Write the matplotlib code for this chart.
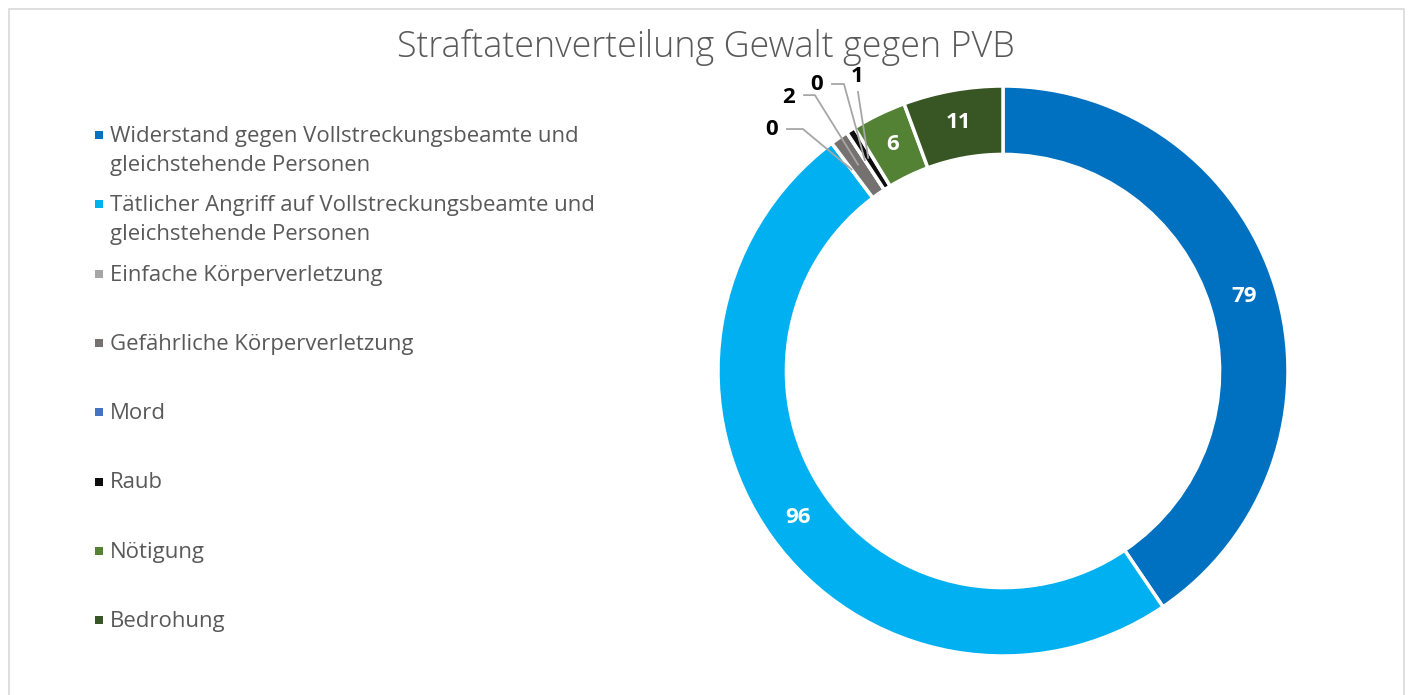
import matplotlib
matplotlib.use('Agg')
import matplotlib.pyplot as plt
import numpy as np
from matplotlib.patches import Rectangle

plt.rcParams['font.family'] = ['Open Sans', 'DejaVu Sans']

title = 'Straftatenverteilung Gewalt gegen PVB'
categories = ['Widerstand gegen Vollstreckungsbeamte und\ngleichstehende Personen',
              'Tätlicher Angriff auf Vollstreckungsbeamte und\ngleichstehende Personen',
              'Einfache Körperverletzung',
              'Gefährliche Körperverletzung',
              'Mord',
              'Raub',
              'Nötigung',
              'Bedrohung']
values = [79, 96, 0, 2, 0, 1, 6, 11]
colors = ['#0070C0', '#00B0F0', '#A5A5A5', '#767171', '#4472C4', '#0D0D0D', '#548235', '#375623']

# outside labels for the tiny slices: text position and leader start/elbow (data units, radius = 1)
outside = {
    2: ((-0.811, 0.846), [(-0.758, 0.849), (-0.702, 0.849)]),
    3: ((-0.751, 0.961), [(-0.698, 0.968), (-0.660, 0.968)]),
    4: ((-0.653, 1.007), [(-0.600, 1.007), (-0.558, 1.007)]),
    5: ((-0.512, 1.032), [(-0.509, 0.979)]),
}

W, H = 1408, 695
fig = plt.figure(figsize=(W / 100, H / 100), dpi=100)

# chart frame
fig.add_artist(Rectangle((8.5 / W, -0.02), (1404 - 8.5) / W, 1.02 - 9 / H,
                         transform=fig.transFigure, fill=False,
                         edgecolor='#D9D9D9', linewidth=1.2))

fig.text(706 / W, 1 - 57 / H, title, ha='center', va='baseline',
         fontsize=25.8, color='#595959', fontweight='light')

# donut
cx, cy, R = 1003, 371, 285
ax = fig.add_axes([(cx - R) / W, 1 - (cy + R) / H, 2 * R / W, 2 * R / H])
wedges, _ = ax.pie(values, colors=colors, startangle=90, counterclock=False, radius=1,
                   wedgeprops=dict(width=0.24, edgecolor='white', linewidth=2.5))
ax.set_xlim(-1, 1)
ax.set_ylim(-1, 1)
ax.set_aspect('equal')
ax.axis('off')

for i, (w, v) in enumerate(zip(wedges, values)):
    mid = np.deg2rad((w.theta1 + w.theta2) / 2)
    px, py = 0.885 * np.cos(mid), 0.885 * np.sin(mid)
    if i in outside:
        (tx, ty), pts = outside[i]
        pts = pts + [(px, py)]
        ax.plot([p[0] for p in pts], [p[1] for p in pts], color='#A6A6A6', lw=1.3,
                clip_on=False, zorder=3)
        ax.text(tx, ty, str(v), ha='center', va='center', fontsize=16,
                fontweight='bold', color='black', clip_on=False)
    else:
        ax.text(px, py, str(v), ha='center', va='center', fontsize=16,
                fontweight='bold', color='white')

# legend
for i, (lab, c) in enumerate(zip(categories, colors)):
    base = 142 + i * 69.3
    fig.add_artist(Rectangle((95 / W, 1 - (base - 3) / H), 8 / W, 8 / H,
                             transform=fig.transFigure, color=c, lw=0))
    for j, line in enumerate(lab.split('\n')):
        fig.text(110 / W, 1 - (base + j * 29) / H, line, ha='left', va='baseline',
                 fontsize=15.9, color='#595959')

fig.savefig('out.png', dpi=100)
